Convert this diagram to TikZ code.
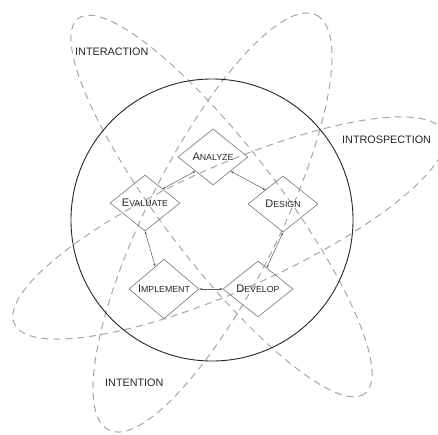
\documentclass[tikz,border=0pt]{standalone}
\usepackage{fontspec}
\setmainfont{Liberation Sans}
\usetikzlibrary{shapes.geometric,arrows.meta,calc}
\newcommand\capsm[2]{{\fontsize{11}{12}\selectfont #1}#2}
\begin{document}
\begin{tikzpicture}[x=1pt,y=-1pt,
  orbit/.style={draw=black!35, line width=1pt, dash pattern=on 7pt off 5pt},
  phase/.style={diamond, draw=black!55, line width=0.6pt, minimum width=70pt, minimum height=56pt, inner sep=0pt, text=black!85, font=\fontsize{8.8}{9}\selectfont},
  link/.style={draw=black!65, line width=0.5pt, {Stealth[length=3pt,width=2.2pt]}-{Stealth[length=3pt,width=2.2pt]}},
  lbl/.style={anchor=west, inner sep=0pt, text=black!85, font=\fontsize{10.8}{12}\selectfont}]
\useasboundingbox (0,0) rectangle (438,434);
\clip (0,0) rectangle (438,434);
% orbits
\draw[orbit, rotate around={-52.6:(221.5,206)}] (221.5,206) ellipse [x radius=236, y radius=58];
\draw[orbit, rotate around={63.4:(212.5,222.5)}] (212.5,222.5) ellipse [x radius=232, y radius=66];
\draw[orbit, rotate around={24:(229,228)}] (229,228) ellipse [x radius=235, y radius=62];
% circle
\draw[black!85, line width=0.9pt] (212,220) circle [radius=141];
% phases
\node[phase] (an) at (213,157) {\capsm{A}{NALYZE}};
\node[phase] (ev) at (145,203) {\capsm{E}{VALUATE}};
\node[phase] (de) at (283,204) {\capsm{D}{ESIGN}};
\node[phase] (im) at (164,289) {\capsm{I}{MPLEMENT}};
\node[phase] (dv) at (258,289) {\capsm{D}{EVELOP}};
% links
\draw[link] ($(an.south)!0.5!(an.west)$) -- ($(ev.north)!0.5!(ev.east)$);
\draw[link] ($(an.south)!0.5!(an.east)$) -- ($(de.north)!0.5!(de.west)$);
\draw[link] (ev.south) -- ($(im.north)!0.25!(im.west)$);
\draw[link] (de.south) -- ($(dv.north)!0.25!(dv.east)$);
\draw[link] (im.east) -- (dv.west);
% labels
\node[lbl] (interaction) at (75,52) {INTERACTION};
\node[lbl] (introspection) at (342,140) {INTROSPECTION};
\node[lbl] (intention) at (105,383) {INTENTION};
\end{tikzpicture}
\end{document}
